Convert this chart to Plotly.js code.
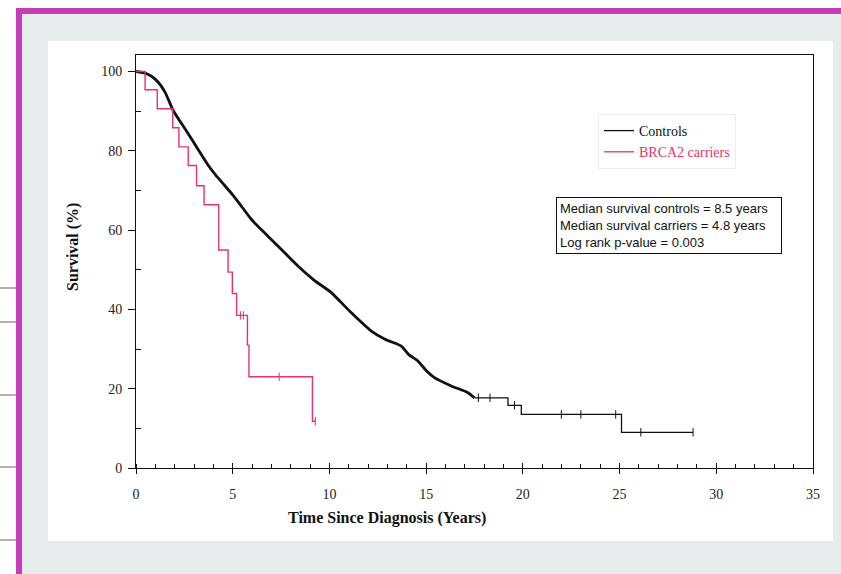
<!DOCTYPE html>
<html>
<head>
<meta charset="utf-8">
<script src="https://cdn.plot.ly/plotly-3.0.1.min.js"></script>
<style>html,body{margin:0;padding:0;background:#fff;}#chart{width:841px;height:574px;}</style>
</head>
<body>
<div id="chart"></div>
<script>
// Controls (dense, smooth part of the Kaplan-Meier curve)
const controlsTime = [0, 0.47, 0.8, 1.15, 1.5, 1.93, 2.54, 3.14, 3.74, 4.1, 4.43, 5.03, 5.5, 5.95, 6.5, 7.15, 7.7, 8.36, 9.2, 10.08, 11.12, 12.15, 12.9, 13.7, 14.1, 14.57, 15.0, 15.43, 16.3, 17.16, 17.5];
const controlsSurv = [100, 99.6, 98.8, 97.3, 94.8, 90.1, 85.5, 80.9, 76.3, 74.0, 72.1, 68.7, 65.7, 62.8, 60.0, 56.9, 54.2, 51.0, 47.4, 44.3, 39.2, 34.6, 32.4, 30.8, 28.6, 27.0, 24.6, 22.8, 20.7, 19.0, 17.7];
// Controls tail (step)
const controlsTailTime = [17.5, 19.23, 19.92, 25.1, 28.8];
const controlsTailSurv = [17.7, 15.8, 13.5, 9.0, 9.0];
const controlsCensorTime = [17.7, 18.3, 19.57, 21.99, 23.0, 24.8, 26.1, 28.8];
const controlsCensorSurv = [17.7, 17.7, 15.8, 13.5, 13.5, 13.5, 9.0, 9.0];
// BRCA2 carriers (step)
const carriersTime = [0, 0.47, 1.10, 1.90, 2.22, 2.70, 3.13, 3.52, 4.28, 4.76, 4.98, 5.20, 5.76, 5.84, 9.12, 9.3];
const carriersSurv = [100, 95.4, 90.6, 85.8, 81.0, 76.3, 71.2, 66.4, 55.0, 49.4, 44.0, 38.5, 31.0, 23.0, 11.8, 11.8];
const carriersCensorTime = [5.4, 5.55, 7.4, 9.27];
const carriersCensorSurv = [38.5, 38.5, 23.0, 11.8];

const xTicks = [0, 5, 10, 15, 20, 25, 30, 35];
const yTicks = [0, 20, 40, 60, 80, 100];

const black = '#111111';
const red = '#e8336a';

// pixel -> paper helpers (plot area: x 136..813, y 55..468)
const L = 136, R = 28, T = 55, B = 106, W = 841, H = 574;
const pw = W - L - R, ph = H - T - B;
const px = v => (v - L) / pw;
const py = v => (H - B - v) / ph;

const traces = [
  {x: controlsTime, y: controlsSurv, mode: 'lines', showlegend: false,
   line: {color: black, width: 2.8, shape: 'spline', smoothing: 0.6}},
  {x: carriersTime, y: carriersSurv, mode: 'lines', showlegend: false,
   line: {color: red, width: 1.4, shape: 'hv'}},
  {x: controlsTailTime, y: controlsTailSurv, mode: 'lines', showlegend: false,
   line: {color: black, width: 1.3, shape: 'hv'}},
  {x: controlsCensorTime, y: controlsCensorSurv, mode: 'markers', showlegend: false,
   marker: {symbol: 'line-ns', size: 6, line: {color: black, width: 1}}},
  {x: carriersCensorTime, y: carriersCensorSurv, mode: 'markers', showlegend: false,
   marker: {symbol: 'line-ns', size: 6, line: {color: red, width: 1}}},
  // legend entries (thin sample lines)
  {x: [null], y: [null], mode: 'lines', name: 'Controls', line: {color: black, width: 1.3}},
  {x: [null], y: [null], mode: 'lines', name: '<span style="color:' + red + '">BRCA2 carriers</span>', line: {color: red, width: 1.3}},
  {x: [], y: [], xaxis: 'x2', showlegend: false}
];

const serif = 'Liberation Serif, Times New Roman, serif';
const sans = 'Liberation Sans, Arial, sans-serif';

const pageLines = [288, 322, 395, 467, 540].map(yy => ({
  type: 'line', xref: 'paper', yref: 'paper', layer: 'below',
  x0: px(0), x1: px(16), y0: py(yy), y1: py(yy), line: {color: '#999', width: 1.5}
}));

const layout = {
  width: W, height: H,
  margin: {l: L, r: R, t: T, b: B},
  paper_bgcolor: '#ffffff',
  plot_bgcolor: '#ffffff',
  showlegend: true,
  legend: {x: px(598), y: py(114), xanchor: 'left', yanchor: 'top',
    bgcolor: '#ffffff', bordercolor: '#ececec', borderwidth: 1,
    font: {family: serif, size: 14, color: '#111'}, itemwidth: 30, tracegroupgap: 0},
  xaxis: {range: [0, 35], tickvals: xTicks, ticktext: xTicks.map(String),
    ticks: 'outside', ticklen: 5, tickwidth: 1, tickcolor: '#111', ticklabelstandoff: 8,
    minor: {dtick: 1, ticks: 'inside', ticklen: 4, tickcolor: '#111'},
    showline: true, linecolor: '#111', linewidth: 1, mirror: true,
    showgrid: false, zeroline: false,
    tickfont: {family: serif, size: 14, color: '#222'}},
  xaxis2: {range: [0, 35], overlaying: 'x', anchor: 'y', side: 'bottom',
    tickvals: xTicks, ticks: 'inside', ticklen: 5, tickcolor: '#111',
    showticklabels: false, showgrid: false, zeroline: false, showline: false},
  yaxis: {range: [0, ph / 3.965], tickvals: yTicks, ticktext: yTicks.map(String),
    ticks: 'outside', ticklen: 7, tickwidth: 1, tickcolor: '#111', ticklabelstandoff: 3,
    minor: {tickvals: [10, 30, 50, 70, 90], ticks: 'inside', ticklen: 5, tickcolor: '#111'},
    showline: true, linecolor: '#111', linewidth: 1, mirror: true,
    showgrid: false, zeroline: false,
    tickfont: {family: serif, size: 14, color: '#222'}},
  shapes: [
    {type: 'rect', xref: 'paper', yref: 'paper', layer: 'below',
     x0: px(19), x1: px(900), y0: py(11), y1: py(650),
     fillcolor: '#e7ecec', line: {color: '#c63bb8', width: 6}},
    {type: 'rect', xref: 'paper', yref: 'paper', layer: 'below',
     x0: px(48), x1: px(833), y0: py(41), y1: py(541),
     fillcolor: '#ffffff', line: {width: 0}}
  ].concat(pageLines),
  annotations: [
    {text: 'Time Since Diagnosis (Years)', xref: 'paper', yref: 'paper',
     x: px(387), y: py(518), xanchor: 'center', yanchor: 'middle', showarrow: false,
     font: {family: serif, size: 16, color: '#111', weight: 'bold'}},
    {text: 'Survival (%)', xref: 'paper', yref: 'paper', textangle: -90,
     x: px(73), y: py(247), xanchor: 'center', yanchor: 'middle', showarrow: false,
     font: {family: serif, size: 16, color: '#111', weight: 'bold'}},
    {text: 'Median survival controls = 8.5 years<br>Median survival carriers = 4.8 years<br>Log rank p-value = 0.003',
     xref: 'paper', yref: 'paper', x: px(556), y: py(197), xanchor: 'left', yanchor: 'top',
     width: 218, align: 'left', showarrow: false, bgcolor: '#ffffff', bordercolor: '#111', borderwidth: 1, borderpad: 3,
     font: {family: sans, size: 13, color: '#111'}}
  ]
};

Plotly.newPlot('chart', traces, layout, {displayModeBar: false, staticPlot: true});
</script>
</body>
</html>
